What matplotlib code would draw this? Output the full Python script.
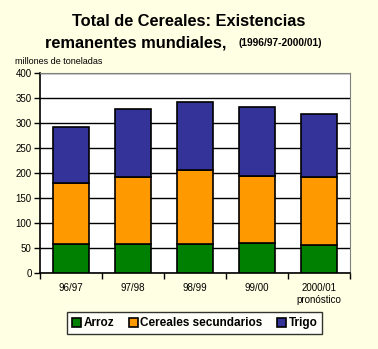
import matplotlib.pyplot as plt
import numpy as np

plt.rcParams['font.family'] = ['Liberation Sans', 'DejaVu Sans']

Campanas = ['96/97', '97/98', '98/99', '99/00', '2000/01\npronóstico']
Arroz = [58, 58, 58, 60, 57]
Secundarios = [123, 135, 149, 135, 135]
Trigo = [112, 135, 135, 137, 126]

Series = [('Arroz', Arroz, '#008000'), ('Cereales secundarios', Secundarios, '#FF9900'), ('Trigo', Trigo, '#333399')]

fig = plt.figure(figsize=(3.78, 3.49), dpi=100, facecolor='#FFFFE3')
ax = fig.add_axes([0.106, 0.217, 0.82, 0.573])
ax.set_facecolor('white')

x = np.arange(len(Campanas))
bottom = np.zeros(len(Campanas))
for name, vals, col in Series:
    ax.bar(x, vals, 0.59, bottom=bottom, color=col, edgecolor='black', linewidth=1.2, label=name, zorder=3)
    bottom += np.array(vals)

ax.set_ylim(0, 400)
ax.set_xlim(-0.5, len(Campanas) - 0.5)
ax.set_yticks(range(0, 401, 50))
ax.yaxis.grid(True, color='black', linewidth=1, zorder=0)
ax.set_xticks(np.arange(-0.5, len(Campanas), 1))
ax.set_xticklabels([])
ax.set_xticks(x, minor=True)
ax.set_xticklabels(Campanas, minor=True, fontsize=7)
ax.tick_params(axis='x', which='minor', length=0, pad=7)
ax.tick_params(axis='x', which='major', length=4, direction='out', width=1)
ax.tick_params(axis='y', length=4, direction='out', width=1, labelsize=7, pad=2)
for s in ['top', 'right']:
    ax.spines[s].set_color('#808080')
for s in ['left', 'bottom']:
    ax.spines[s].set_color('black')
    ax.spines[s].set_linewidth(1.2)

fig.text(0.5, 0.937, 'Total de Cereales: Existencias', ha='center', va='center', fontsize=11.8, fontweight='bold')
fig.text(0.119, 0.877, 'remanentes mundiales,', ha='left', va='center', fontsize=11.8, fontweight='bold')
fig.text(0.63, 0.877, '(1996/97-2000/01)', ha='left', va='center', fontsize=7.3, fontweight='bold')
fig.text(0.04, 0.825, 'millones de toneladas', ha='left', va='center', fontsize=6.5)

leg = fig.legend(loc='center', bbox_to_anchor=(0.515, 0.074), ncol=3, frameon=True,
                 fancybox=False, edgecolor='black', handlelength=0.8, handleheight=0.8,
                 handletextpad=0.2, columnspacing=1.2, borderpad=0.4, prop={'weight': 'bold', 'size': 8.5})
leg.get_frame().set_linewidth(1)

fig.savefig('out.png', dpi=100, facecolor=fig.get_facecolor())
